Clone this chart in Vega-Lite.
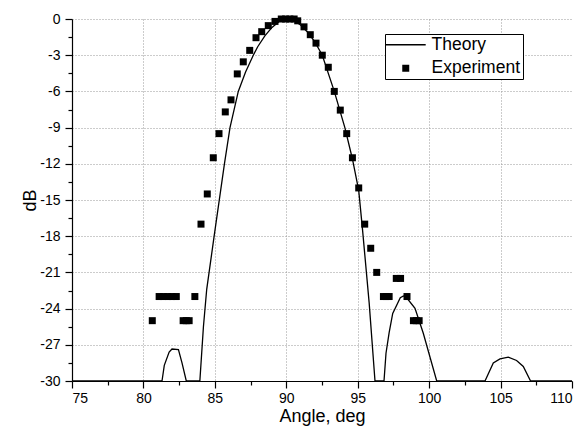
{
  "$schema": "https://vega.github.io/schema/vega-lite/v6.json",
  "width": 500,
  "height": 362,
  "autosize": {"type": "none"},
  "padding": {"left": 72, "top": 19, "right": 13, "bottom": 47},
  "background": "white",
  "config": {
    "view": {"stroke": null},
    "font": "Liberation Sans",
    "axis": {
      "domainColor": "black",
      "domainWidth": 1.2,
      "tickColor": "black",
      "tickWidth": 1.2,
      "labelColor": "black",
      "labelFont": "Liberation Sans",
      "labelFontSize": 14,
      "titleFont": "Liberation Sans",
      "titleFontSize": 18,
      "titleFontWeight": "normal",
      "titleColor": "black",
      "gridDash": [1, 2],
      "gridColor": "#999999",
      "gridWidth": 1,
      "labelOverlap": false
    }
  },
  "datasets": {
    "theory": [
      {"angle": 75, "db": -30}, {"angle": 81.3, "db": -30}, {"angle": 81.46, "db": -28.7},
      {"angle": 81.8, "db": -27.6}, {"angle": 82.0, "db": -27.35}, {"angle": 82.45, "db": -27.4},
      {"angle": 82.7, "db": -28.5}, {"angle": 83.0, "db": -30}, {"angle": 83.95, "db": -30},
      {"angle": 84.2, "db": -25.5}, {"angle": 84.43, "db": -22.4}, {"angle": 84.95, "db": -18},
      {"angle": 85.67, "db": -12}, {"angle": 86.06, "db": -9}, {"angle": 86.64, "db": -6},
      {"angle": 87.15, "db": -4.4}, {"angle": 87.69, "db": -3}, {"angle": 88.0, "db": -2.3},
      {"angle": 88.5, "db": -1.4}, {"angle": 89.0, "db": -0.7}, {"angle": 89.5, "db": -0.2},
      {"angle": 90.0, "db": 0}, {"angle": 90.5, "db": -0.1}, {"angle": 91.0, "db": -0.5},
      {"angle": 91.5, "db": -1.1}, {"angle": 92.0, "db": -1.9}, {"angle": 92.52, "db": -3},
      {"angle": 93.36, "db": -6}, {"angle": 94.1, "db": -9}, {"angle": 94.63, "db": -11.6},
      {"angle": 95.07, "db": -14.2}, {"angle": 95.34, "db": -17.5}, {"angle": 95.8, "db": -23.5},
      {"angle": 96.21, "db": -30}, {"angle": 96.84, "db": -30}, {"angle": 96.98, "db": -27.7},
      {"angle": 97.2, "db": -26}, {"angle": 97.45, "db": -24.4}, {"angle": 97.98, "db": -23.1},
      {"angle": 98.2, "db": -22.95}, {"angle": 98.43, "db": -23.1}, {"angle": 99.01, "db": -23.97},
      {"angle": 99.59, "db": -26.04}, {"angle": 100.53, "db": -30}, {"angle": 103.91, "db": -30},
      {"angle": 104.49, "db": -28.5}, {"angle": 104.96, "db": -28.17}, {"angle": 105.54, "db": -28.03},
      {"angle": 106.12, "db": -28.3}, {"angle": 106.59, "db": -28.8}, {"angle": 107.1, "db": -30},
      {"angle": 110, "db": -30}
    ],
    "experiment": [
      {"angle": 80.62, "db": -25, "series": "Experiment"},
      {"angle": 81.1, "db": -23, "series": "Experiment"},
      {"angle": 81.4, "db": -23, "series": "Experiment"},
      {"angle": 81.7, "db": -23, "series": "Experiment"},
      {"angle": 82.0, "db": -23, "series": "Experiment"},
      {"angle": 82.3, "db": -23, "series": "Experiment"},
      {"angle": 82.78, "db": -25, "series": "Experiment"},
      {"angle": 83.0, "db": -25, "series": "Experiment"},
      {"angle": 83.2, "db": -25, "series": "Experiment"},
      {"angle": 83.6, "db": -23, "series": "Experiment"},
      {"angle": 84.03, "db": -17, "series": "Experiment"},
      {"angle": 84.47, "db": -14.5, "series": "Experiment"},
      {"angle": 84.89, "db": -11.5, "series": "Experiment"},
      {"angle": 85.29, "db": -9.5, "series": "Experiment"},
      {"angle": 85.73, "db": -7.7, "series": "Experiment"},
      {"angle": 86.13, "db": -6.7, "series": "Experiment"},
      {"angle": 86.57, "db": -4.55, "series": "Experiment"},
      {"angle": 86.99, "db": -3.55, "series": "Experiment"},
      {"angle": 87.44, "db": -2.6, "series": "Experiment"},
      {"angle": 87.88, "db": -1.55, "series": "Experiment"},
      {"angle": 88.28, "db": -1.05, "series": "Experiment"},
      {"angle": 88.74, "db": -0.55, "series": "Experiment"},
      {"angle": 89.21, "db": -0.2, "series": "Experiment"},
      {"angle": 89.65, "db": 0, "series": "Experiment"},
      {"angle": 89.95, "db": 0, "series": "Experiment"},
      {"angle": 90.25, "db": 0, "series": "Experiment"},
      {"angle": 90.55, "db": 0, "series": "Experiment"},
      {"angle": 90.8, "db": -0.15, "series": "Experiment"},
      {"angle": 91.24, "db": -0.65, "series": "Experiment"},
      {"angle": 91.68, "db": -1.3, "series": "Experiment"},
      {"angle": 92.08, "db": -2.0, "series": "Experiment"},
      {"angle": 92.52, "db": -3.0, "series": "Experiment"},
      {"angle": 92.94, "db": -4.0, "series": "Experiment"},
      {"angle": 93.36, "db": -6.0, "series": "Experiment"},
      {"angle": 93.78, "db": -7.55, "series": "Experiment"},
      {"angle": 94.23, "db": -9.5, "series": "Experiment"},
      {"angle": 94.63, "db": -11.5, "series": "Experiment"},
      {"angle": 95.07, "db": -14, "series": "Experiment"},
      {"angle": 95.49, "db": -17, "series": "Experiment"},
      {"angle": 95.91, "db": -19, "series": "Experiment"},
      {"angle": 96.33, "db": -21, "series": "Experiment"},
      {"angle": 96.8, "db": -23, "series": "Experiment"},
      {"angle": 97.0, "db": -23, "series": "Experiment"},
      {"angle": 97.2, "db": -23, "series": "Experiment"},
      {"angle": 97.7, "db": -21.5, "series": "Experiment"},
      {"angle": 98.0, "db": -21.5, "series": "Experiment"},
      {"angle": 98.45, "db": -23, "series": "Experiment"},
      {"angle": 98.9, "db": -25, "series": "Experiment"},
      {"angle": 99.1, "db": -25, "series": "Experiment"},
      {"angle": 99.3, "db": -25, "series": "Experiment"}
    ]
  },
  "encoding": {
    "x": {
      "field": "angle", "type": "quantitative",
      "scale": {"domain": [75, 110], "nice": false, "zero": false},
      "axis": {
        "title": "Angle, deg",
        "values": [75, 77.5, 80, 82.5, 85, 87.5, 90, 92.5, 95, 97.5, 100, 102.5, 105, 107.5, 110],
        "labelExpr": "datum.value % 5 === 0 ? datum.label : ''",
        "tickSize": {"condition": {"test": "datum.value % 5 === 0", "value": 7}, "value": 4},
        "gridOpacity": {"condition": {"test": "datum.value % 5 === 0 && datum.value > 75 && datum.value < 110", "value": 1}, "value": 0},
        "grid": true,
        "labelPadding": 3,
        "titlePadding": 2
      }
    },
    "y": {
      "field": "db", "type": "quantitative",
      "scale": {"domain": [-30, 0], "nice": false, "zero": false},
      "axis": {
        "title": "dB",
        "values": [-30, -28.5, -27, -25.5, -24, -22.5, -21, -19.5, -18, -16.5, -15, -13.5, -12, -10.5, -9, -7.5, -6, -4.5, -3, -1.5, 0],
        "labelExpr": "datum.value % 3 === 0 ? replace(datum.label, '\u2212', '-') : ''",
        "tickSize": {"condition": {"test": "datum.value % 3 === 0", "value": 7}, "value": 4},
        "gridOpacity": {"condition": {"test": "datum.value % 3 === 0 && datum.value > -30", "value": 1}, "value": 0},
        "grid": true,
        "labelPadding": 5,
        "titlePadding": 0
      }
    }
  },
  "layer": [
    {
      "data": {"name": "theory"},
      "mark": {"type": "line", "color": "black", "strokeWidth": 1.3, "clip": true},
      "encoding": {}
    },
    {
      "data": {"name": "experiment"},
      "mark": {"type": "point", "filled": true, "color": "black", "opacity": 1, "size": 49},
      "encoding": {
        "shape": {
          "field": "series", "type": "nominal",
          "scale": {"domain": ["Theory", "Experiment"], "range": ["M-5.7,-0.18L5.7,-0.18L5.7,0.18L-5.7,0.18Z", "square"]},
          "legend": {
            "title": null, "orient": "none", "legendX": 313, "legendY": 15,
            "strokeColor": "black", "fillColor": "white", "padding": 2,
            "labelFontSize": 17.5, "labelFont": "Liberation Sans", "labelColor": "black",
            "labelOffset": 17, "rowPadding": 4.5, "symbolSize": 49, "symbolOffset": 10,
            "symbolFillColor": "black"
          }
        }
      }
    }
  ]
}
